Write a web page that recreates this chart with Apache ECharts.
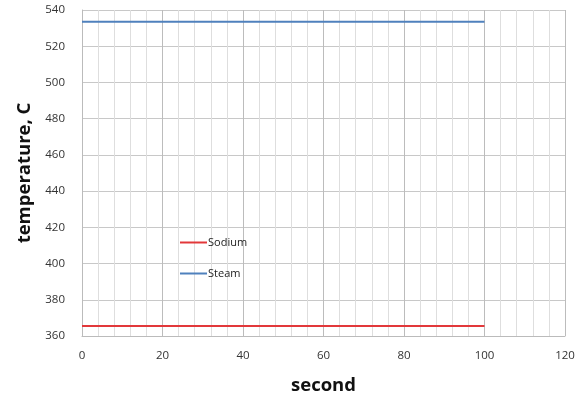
<!DOCTYPE html>
<html><head><meta charset="utf-8">
<script src="https://cdn.jsdelivr.net/npm/echarts@6/dist/echarts.min.js"></script>
<style>html,body{margin:0;padding:0;background:#fff}#c{width:586px;height:400px}</style>
</head><body><div id="c"></div>
<script>
const time = [0, 100];
const sodium = [365.5, 365.5];
const steam = [533.5, 533.5];
const xTicks = [0, 20, 40, 60, 80, 100, 120];
const yTicks = [360, 380, 400, 420, 440, 460, 480, 500, 520, 540];

const chart = echarts.init(document.getElementById('c'));
chart.setOption({
  animation: false,
  grid: {left: 82, right: 21, top: 10, bottom: 64},
  legend: {
    orient: 'vertical', left: 175, top: 232, itemGap: 20,
    icon: 'rect', itemWidth: 27, itemHeight: 2,
    textStyle: {fontFamily: 'Open Sans', fontSize: 11, color: '#222', padding: [0, 0, 0, -4]},
    data: ['Sodium', 'Steam']
  },
  xAxis: {
    type: 'value', min: xTicks[0], max: xTicks[xTicks.length - 1], interval: 20,
    name: 'second', nameLocation: 'middle', nameGap: 40,
    nameTextStyle: {fontFamily: 'Open Sans', fontWeight: 'bold', fontSize: 18.5, color: '#111'},
    axisLine: {show: true, lineStyle: {color: '#bbb'}},
    axisTick: {show: false},
    axisLabel: {fontFamily: 'Open Sans', fontSize: 11.5, color: '#333', margin: 14},
    splitLine: {show: true, lineStyle: {color: '#bcbcbc'}},
    minorTick: {show: false, splitNumber: 5},
    minorSplitLine: {show: true, lineStyle: {color: '#dedede'}}
  },
  yAxis: {
    type: 'value', min: yTicks[0], max: yTicks[yTicks.length - 1], interval: 20,
    name: 'temperature, C', nameLocation: 'middle', nameGap: 48,
    nameTextStyle: {fontFamily: 'Open Sans', fontWeight: 'bold', fontSize: 18.5, color: '#111'},
    axisLine: {show: true, lineStyle: {color: '#bbb'}},
    axisTick: {show: false},
    axisLabel: {fontFamily: 'Open Sans', fontSize: 11.5, color: '#333', margin: 17},
    splitLine: {show: true, lineStyle: {color: '#c8c8c8'}}
  },
  series: [
    {name: 'Sodium', type: 'line', data: time.map((t, i) => [t, sodium[i]]),
     showSymbol: false, lineStyle: {color: '#e2383a', width: 2}, itemStyle: {color: '#e2383a'}},
    {name: 'Steam', type: 'line', data: time.map((t, i) => [t, steam[i]]),
     showSymbol: false, lineStyle: {color: '#4f81bd', width: 2}, itemStyle: {color: '#4f81bd'}}
  ]
});
</script></body></html>
